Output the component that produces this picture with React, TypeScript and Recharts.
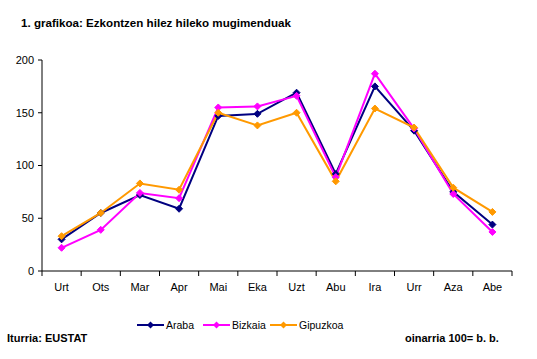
import { LineChart, Line, XAxis, YAxis } from 'recharts';

const months = ['Urt', 'Ots', 'Mar', 'Apr', 'Mai', 'Eka', 'Uzt', 'Abu', 'Ira', 'Urr', 'Aza', 'Abe'];
const araba = [30, 55, 72, 59, 147, 149, 169, 92, 175, 133, 75, 44];
const bizkaia = [22, 39, 74, 69, 155, 156, 166, 89, 187, 135, 73, 37];
const gipuzkoa = [33, 55, 83, 77, 150, 138, 150, 85, 154, 136, 79, 56];
const yTicks = [0, 50, 100, 150, 200];

const SERIES = [
  { key: 'araba', name: 'Araba', color: '#000080', left: 137 },
  { key: 'bizkaia', name: 'Bizkaia', color: '#FF00FF', left: 203 },
  { key: 'gipuzkoa', name: 'Gipuzkoa', color: '#FF9900', left: 270 },
];

const FONT = 'Arial, "Liberation Sans", sans-serif';
const W = 537;
const H = 359;
const M = { top: 60, right: 25, bottom: 58, left: 0 };
const Y_W = 42;
const BAND = (W - M.left - M.right - Y_W) / months.length;

const data = months.map((m, i) => ({
  month: m,
  araba: araba[i],
  bizkaia: bizkaia[i],
  gipuzkoa: gipuzkoa[i],
}));

function diamond(color: string) {
  return (props: any) => {
    const { cx, cy, index } = props;
    if (cx == null || cy == null) return <g key={index} />;
    const r = 3.5;
    return (
      <path
        key={index}
        d={`M${cx},${cy - r}L${cx + r},${cy}L${cx},${cy + r}L${cx - r},${cy}Z`}
        fill={color}
        stroke={color}
        strokeWidth={1}
      />
    );
  };
}

// category labels centred, tick marks on the boundaries between months
function MonthTick(props: any) {
  const { x, y, payload, index } = props;
  const left = x - BAND / 2;
  const axisY = y - 8;
  return (
    <g>
      <line x1={left} y1={axisY} x2={left} y2={axisY + 5} stroke="#000" />
      {index === months.length - 1 && (
        <line x1={x + BAND / 2} y1={axisY} x2={x + BAND / 2} y2={axisY + 5} stroke="#000" />
      )}
      <text x={x} y={axisY + 20} textAnchor="middle" fontSize={11} fontFamily={FONT} fill="#000">
        {payload.value}
      </text>
    </g>
  );
}

function LegendBox() {
  return (
    <div style={{ position: 'relative', fontFamily: FONT, fontSize: 10.5, color: '#000' }}>
      {SERIES.map((s) => (
        <div
          key={s.key}
          style={{ position: 'absolute', left: s.left, top: 0, display: 'flex', alignItems: 'center', whiteSpace: 'nowrap' }}
        >
          <svg width={27} height={8}>
            <line x1={0} y1={4} x2={27} y2={4} stroke={s.color} strokeWidth={2} />
            <path d="M13.5,0.5L17,4L13.5,7.5L10,4Z" fill={s.color} />
          </svg>
          <span style={{ marginLeft: 2 }}>{s.name}</span>
        </div>
      ))}
    </div>
  );
}

export default function App() {
  return (
    <div style={{ position: 'absolute', left: 0, top: 0, width: W, height: H, background: '#fff' }}>
      <div
        style={{ position: 'absolute', left: 21, top: 16, fontFamily: FONT, fontSize: 11.6, fontWeight: 'bold' }}
      >
        1. grafikoa: Ezkontzen hilez hileko mugimenduak
      </div>
      <LineChart width={W} height={H} data={data} margin={M}>
        <XAxis
          dataKey="month"
          scale="band"
          axisLine={{ stroke: '#000' }}
          tickLine={false}
          tick={<MonthTick />}
          interval={0}
          height={30}
        />
        <YAxis
          domain={[0, 200]}
          ticks={yTicks}
          width={Y_W}
          axisLine={{ stroke: '#000' }}
          tickLine={{ stroke: '#000' }}
          tickSize={4}
          tick={{ fontSize: 11, fontFamily: FONT, fill: '#000' }}
          tickMargin={4}
        />
        {SERIES.map((s) => (
          <Line
            key={s.key}
            type="linear"
            dataKey={s.key}
            name={s.name}
            stroke={s.color}
            strokeWidth={2}
            dot={diamond(s.color)}
            activeDot={false}
            isAnimationActive={false}
          />
        ))}
      </LineChart>
      <div style={{ position: 'absolute', left: 0, top: 319, width: W }}>
        <LegendBox />
      </div>
      <div style={{ position: 'absolute', left: 7, top: 332, fontFamily: FONT, fontSize: 11, fontWeight: 'bold' }}>
        Iturria: EUSTAT
      </div>
      <div style={{ position: 'absolute', left: 405, top: 332, fontFamily: FONT, fontSize: 11, fontWeight: 'bold' }}>
        oinarria 100= b. b.
      </div>
    </div>
  );
}
